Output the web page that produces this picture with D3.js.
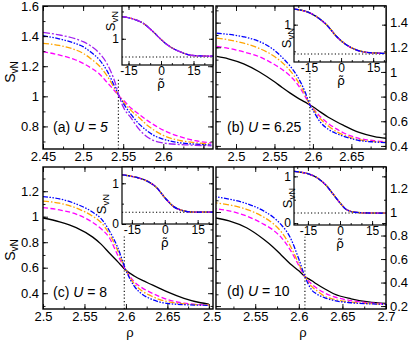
<!DOCTYPE html>
<html>
<head>
<meta charset="utf-8">
<script src="https://cdn.jsdelivr.net/npm/d3@7"></script>
<style>
body { margin: 0; background: #fff; }
svg { display: block; font-family: "Liberation Sans", Arial, Helvetica, sans-serif; }
</style>
</head>
<body>
<svg id="chart" width="411" height="341"></svg>
<script>
// ---- panel (a), U = 5 ----
const aRho = [2.45, 2.47, 2.49, 2.50, 2.51, 2.52, 2.53, 2.54, 2.545, 2.55, 2.56, 2.57, 2.58, 2.59, 2.60, 2.62, 2.64, 2.66];
const aPurple = [1.425, 1.408, 1.383, 1.363, 1.333, 1.288, 1.215, 1.090, 1.0, 0.930, 0.855, 0.780, 0.730, 0.703, 0.690, 0.680, 0.675, 0.671];
const aBlue = [1.403, 1.382, 1.352, 1.330, 1.292, 1.245, 1.168, 1.058, 1.0, 0.955, 0.878, 0.815, 0.770, 0.735, 0.715, 0.692, 0.682, 0.676];
const aOrange = [1.352, 1.338, 1.310, 1.286, 1.248, 1.203, 1.135, 1.045, 1.0, 0.965, 0.905, 0.857, 0.808, 0.770, 0.740, 0.707, 0.692, 0.683];
const aMagenta = [1.297, 1.275, 1.243, 1.219, 1.188, 1.150, 1.092, 1.032, 1.0, 0.975, 0.920, 0.880, 0.840, 0.805, 0.775, 0.733, 0.705, 0.690];
const aInsetRho = [-18, -12.8, -8.2, -3.6, 0.3, 4.2, 8.8, 13.4, 18, 24];
const aInsetS = [1.404, 1.362, 1.283, 1.129, 0.977, 0.855, 0.763, 0.703, 0.686, 0.682];

// ---- panel (b), U = 6.25 ----
const bRho = [2.475, 2.49, 2.51, 2.53, 2.55, 2.56, 2.57, 2.58, 2.59, 2.596, 2.60, 2.61, 2.62, 2.63, 2.64, 2.66, 2.68, 2.695];
const bBlack = [1.126, 1.107, 1.066, 1.002, 0.920, 0.874, 0.830, 0.790, 0.755, 0.732, 0.718, 0.674, 0.633, 0.598, 0.566, 0.510, 0.476, 0.462];
const bBlue = [1.314, 1.305, 1.285, 1.248, 1.175, 1.118, 1.050, 0.962, 0.835, 0.732, 0.690, 0.590, 0.535, 0.502, 0.478, 0.444, 0.432, 0.427];
const bOrange = [1.275, 1.261, 1.233, 1.192, 1.125, 1.077, 1.013, 0.928, 0.815, 0.732, 0.700, 0.618, 0.562, 0.518, 0.488, 0.450, 0.435, 0.429];
const bMagenta = [1.207, 1.192, 1.163, 1.124, 1.060, 1.020, 0.970, 0.900, 0.800, 0.732, 0.705, 0.635, 0.582, 0.540, 0.505, 0.462, 0.442, 0.435];
const bInsetRho = [-22, -16.1, -11.4, -6.7, -2.0, 2.6, 7.3, 13.5, 19, 21];
const bInsetS = [1.29, 1.243, 1.149, 0.994, 0.774, 0.618, 0.524, 0.474, 0.463, 0.462];

// ---- panel (c), U = 8 ----
const cRho = [2.50, 2.52, 2.54, 2.56, 2.57, 2.58, 2.59, 2.60, 2.61, 2.62, 2.63, 2.64, 2.65, 2.67, 2.69, 2.70];
const cBlack = [0.990, 0.960, 0.915, 0.840, 0.785, 0.715, 0.648, 0.580, 0.535, 0.500, 0.470, 0.440, 0.410, 0.360, 0.325, 0.315];
const cBlue = [1.157, 1.140, 1.100, 1.035, 0.985, 0.890, 0.760, 0.580, 0.455, 0.390, 0.355, 0.332, 0.320, 0.310, 0.306, 0.305];
const cOrange = [1.123, 1.106, 1.068, 1.003, 0.955, 0.865, 0.735, 0.580, 0.475, 0.415, 0.380, 0.352, 0.335, 0.316, 0.309, 0.308];
const cMagenta = [1.071, 1.053, 1.020, 0.955, 0.905, 0.835, 0.700, 0.580, 0.490, 0.440, 0.405, 0.375, 0.350, 0.322, 0.310, 0.308];
const cInsetRho = [-19.5, -12.8, -8.2, -3.7, 0.1, 3.9, 7.8, 13.1, 19.9, 22];
const cInsetS = [1.205, 1.143, 1.058, 0.893, 0.643, 0.433, 0.333, 0.293, 0.290, 0.290];

// ---- panel (d), U = 10 ----
const dRho = [2.50, 2.52, 2.54, 2.56, 2.57, 2.58, 2.59, 2.60, 2.607, 2.615, 2.62, 2.63, 2.64, 2.66, 2.68, 2.70];
const dBlack = [0.955, 0.925, 0.866, 0.766, 0.705, 0.633, 0.560, 0.500, 0.452, 0.415, 0.390, 0.345, 0.305, 0.262, 0.236, 0.223];
const dBlue = [1.135, 1.110, 1.072, 1.008, 0.960, 0.890, 0.785, 0.600, 0.452, 0.335, 0.305, 0.270, 0.248, 0.228, 0.219, 0.215];
const dOrange = [1.082, 1.061, 1.023, 0.955, 0.905, 0.830, 0.715, 0.560, 0.452, 0.365, 0.335, 0.282, 0.258, 0.234, 0.221, 0.216];
const dMagenta = [1.034, 1.010, 0.966, 0.895, 0.850, 0.782, 0.680, 0.545, 0.452, 0.385, 0.355, 0.310, 0.280, 0.246, 0.228, 0.218];
const dInsetRho = [-21.5, -15.6, -10.9, -6.2, -3.1, 0, 3.1, 7.8, 15.6, 21.5];
const dInsetS = [1.107, 1.063, 0.976, 0.793, 0.613, 0.433, 0.287, 0.228, 0.215, 0.215];

// tick labels
const aXTicks = [2.45, 2.5, 2.55, 2.6];
const aYTicks = [0.8, 1, 1.2, 1.4, 1.6];
const bXTicks = [2.5, 2.55, 2.6, 2.65];
const bYTicks = [0.4, 0.6, 0.8, 1, 1.2, 1.4];
const cXTicks = [2.5, 2.55, 2.6, 2.65];
const cYTicks = [0.4, 0.6, 0.8, 1, 1.2];
const dXTicks = [2.5, 2.55, 2.6, 2.65, 2.7];
const dYTicks = [0.2, 0.4, 0.6, 0.8, 1, 1.2];
const insetXTicks = [-15, 0, 15];

// critical density (dotted line) and plateau of the collapsed curves
const panelTags = ["(a)", "(b)", "(c)", "(d)"];
const uValues = ["5", "6.25", "8", "10"];
const rhoCritical = [2.544, 2.596, 2.598, 2.607];
const dottedTop = [1.12, 1.0, 0.86, 0.79];
const insetFloor = [0.666, 0.45, 0.29, 0.215];

const styles = {
    black: { color: "#000000", dash: null },
    magenta: { color: "#ff00ff", dash: "5,2.5" },
    orange: { color: "#ffa500", dash: "6,2,1.5,2" },
    blue: { color: "#0000ff", dash: "5,1.5,1.5,1.5,1.5,1.5" },
    purple: { color: "#a020f0", dash: "7,2,2,2" }
};

const svg = d3.select("#chart");
const fmt = d => String(+d.toFixed(3));

function stepTicks(domain, step) {
    const lo = Math.ceil(Math.min(...domain) / step - 1e-6);
    const hi = Math.floor(Math.max(...domain) / step + 1e-6);
    return d3.range(lo, hi + 1).map(k => +(k * step).toFixed(4));
}

const axisFor = { bottom: d3.axisBottom, top: d3.axisTop, left: d3.axisLeft, right: d3.axisRight };

function tickMarks(g, scale, orient, values, len, tx, ty) {
    const a = g.append("g")
        .attr("transform", `translate(${tx},${ty})`)
        .call(axisFor[orient](scale).tickValues(values).tickSize(-len).tickFormat(""));
    a.select(".domain").remove();
    a.selectAll("line").attr("stroke", "#000").attr("stroke-width", 0.9);
}

function tickLabels(g, scale, orient, values, pad, size, tx, ty) {
    const a = g.append("g")
        .attr("transform", `translate(${tx},${ty})`)
        .call(axisFor[orient](scale).tickValues(values).tickSize(0).tickPadding(pad).tickFormat(fmt));
    a.attr("font-family", null).attr("font-size", null);
    a.select(".domain").remove();
    a.selectAll("text").attr("fill", "#000").style("font-size", size + "px");
}

function frameTicks(g, x, y, box, xStep, xMinor, yStep, yMinor, major, minor) {
    const [x0, y0, x1, y1] = box;
    const xs = stepTicks(x.domain(), xStep), xm = stepTicks(x.domain(), xMinor);
    const ys = stepTicks(y.domain(), yStep), ym = stepTicks(y.domain(), yMinor);
    tickMarks(g, x, "bottom", xm, minor, 0, y1);
    tickMarks(g, x, "top", xm, minor, 0, y0);
    tickMarks(g, x, "bottom", xs, major, 0, y1);
    tickMarks(g, x, "top", xs, major, 0, y0);
    tickMarks(g, y, "left", ym, minor, x0, 0);
    tickMarks(g, y, "right", ym, minor, x1, 0);
    tickMarks(g, y, "left", ys, major, x0, 0);
    tickMarks(g, y, "right", ys, major, x1, 0);
}

function svnLabel(g, cx, cy, big, small) {
    const t = g.append("text")
        .attr("transform", `translate(${cx},${cy}) rotate(-90)`)
        .attr("text-anchor", "middle")
        .attr("fill", "#000");
    t.append("tspan").style("font-size", big + "px").text("S");
    t.append("tspan").style("font-size", small + "px").attr("dy", small * 0.3).text("vN");
}

function drawCurves(g, x, y, rho, series, clipId) {
    const line = d3.line()
        .x((d, i) => x(rho[i]))
        .y(d => y(d))
        .curve(d3.curveMonotoneX);
    g.append("g").attr("clip-path", `url(#${clipId})`)
        .selectAll("path")
        .data(series)
        .join("path")
        .attr("d", d => line(d[1]))
        .attr("fill", "none")
        .attr("stroke", d => styles[d[0]].color)
        .attr("stroke-width", 1.3)
        .attr("stroke-dasharray", d => styles[d[0]].dash);
}

const panels = [
    {
        id: "a", box: [43, 6, 213, 149], xDomain: [2.45, 2.662], yDomain: [0.65, 1.6],
        xLabels: aXTicks, yLabels: aYTicks, ySide: "left", rhoLabel: false,
        rho: aRho, series: [["magenta", aMagenta], ["orange", aOrange], ["blue", aBlue], ["purple", aPurple]],
        tagPos: [53, 132], svnPos: [15, 72], italicAll: true,
        inset: { box: [122, 6, 213, 65], xDomain: [-18, 24], yDomain: [0.52, 1.6], rho: aInsetRho, s: aInsetS, yLabels: [1], svnPos: [115, 21] }
    },
    {
        id: "b", box: [216, 6, 386, 149], xDomain: [2.474, 2.695], yDomain: [0.375, 1.535],
        xLabels: bXTicks, yLabels: bYTicks, ySide: "right", rhoLabel: false,
        rho: bRho, series: [["black", bBlack], ["magenta", bMagenta], ["orange", bOrange], ["blue", bBlue]],
        tagPos: [227, 132],
        inset: { box: [294, 6, 386, 62], xDomain: [-22, 21], yDomain: [0.3, 1.35], rho: bInsetRho, s: bInsetS, yLabels: [1], svnPos: [291, 38] }
    },
    {
        id: "c", box: [43, 167, 213, 309], xDomain: [2.5, 2.705], yDomain: [0.276, 1.39],
        xLabels: cXTicks, yLabels: cYTicks, ySide: "left", rhoLabel: true,
        rho: cRho, series: [["black", cBlack], ["magenta", cMagenta], ["orange", cOrange], ["blue", cBlue]],
        tagPos: [53, 297], svnPos: [15, 250],
        inset: { box: [122, 167, 213, 224], xDomain: [-19.5, 22], yDomain: [0, 1.4], rho: cInsetRho, s: cInsetS, yLabels: [0, 1], svnPos: [106, 204] }
    },
    {
        id: "d", box: [216, 167, 386, 309], xDomain: [2.505, 2.7], yDomain: [0.175, 1.383],
        xLabels: dXTicks, yLabels: dYTicks, ySide: "right", rhoLabel: true,
        rho: dRho, series: [["black", dBlack], ["magenta", dMagenta], ["orange", dOrange], ["blue", dBlue]],
        tagPos: [227, 296],
        inset: { box: [294, 167, 386, 225], xDomain: [-21.5, 21.5], yDomain: [-0.04, 1.2], rho: dInsetRho, s: dInsetS, yLabels: [0, 1], svnPos: [292, 198] }
    }
];

const defs = svg.append("defs");

panels.forEach((p, k) => {
    const [x0, y0, x1, y1] = p.box;
    const g = svg.append("g");
    const x = d3.scaleLinear().domain(p.xDomain).range([x0, x1]);
    const y = d3.scaleLinear().domain(p.yDomain).range([y1, y0]);

    defs.append("clipPath").attr("id", "clip-" + p.id)
        .append("rect").attr("x", x0).attr("y", y0).attr("width", x1 - x0).attr("height", y1 - y0);

    // dotted line at the crossing point
    g.append("line")
        .attr("x1", x(rhoCritical[k])).attr("x2", x(rhoCritical[k]))
        .attr("y1", y1).attr("y2", y(dottedTop[k]))
        .attr("stroke", "#000").attr("stroke-width", 1.1).attr("stroke-dasharray", "1.2,2.2");

    drawCurves(g, x, y, p.rho, p.series, "clip-" + p.id);

    frameTicks(g, x, y, p.box, 0.05, 0.025, 0.2, 0.1, 5, 2.5);
    g.append("rect").attr("x", x0).attr("y", y0).attr("width", x1 - x0).attr("height", y1 - y0)
        .attr("fill", "none").attr("stroke", "#000").attr("stroke-width", 1.4);

    tickLabels(g, x, "bottom", p.xLabels, 3, 13, 0, y1);
    if (p.ySide === "left") tickLabels(g, y, "left", p.yLabels, 4, 13, x0, 0);
    else tickLabels(g, y, "right", p.yLabels, 4, 13, x1, 0);

    if (p.svnPos) svnLabel(g, p.svnPos[0], p.svnPos[1], 14, 10);
    if (p.rhoLabel) {
        g.append("text").attr("x", (x0 + x1) / 2 + 2).attr("y", 337)
            .attr("text-anchor", "middle").style("font-size", "13px").text("ρ");
    }

    const tag = g.append("text").attr("x", p.tagPos[0]).attr("y", p.tagPos[1]).style("font-size", "14px");
    tag.append("tspan").text(panelTags[k] + " ");
    tag.append("tspan").style("font-style", "italic").text("U");
    tag.append("tspan").style("font-style", p.italicAll ? "italic" : null).text(" = " + uValues[k]);

    // inset: same data against the rescaled density
    const q = p.inset;
    const [i0, j0, i1, j1] = q.box;
    const ix = d3.scaleLinear().domain(q.xDomain).range([i0, i1]);
    const iy = d3.scaleLinear().domain(q.yDomain).range([j1, j0]);
    const ig = svg.append("g");
    ig.append("rect").attr("x", i0).attr("y", j0).attr("width", i1 - i0).attr("height", j1 - j0).attr("fill", "#fff");
    defs.append("clipPath").attr("id", "clip-i" + p.id)
        .append("rect").attr("x", i0).attr("y", j0).attr("width", i1 - i0).attr("height", j1 - j0);
    ig.append("line")
        .attr("x1", i0).attr("x2", i1).attr("y1", iy(insetFloor[k])).attr("y2", iy(insetFloor[k]))
        .attr("stroke", "#000").attr("stroke-width", 1.1).attr("stroke-dasharray", "1.2,2.2");
    drawCurves(ig, ix, iy, q.rho, p.series.map(s => [s[0], q.s]), "clip-i" + p.id);
    frameTicks(ig, ix, iy, q.box, 15, 5, 1, 0.5, 4, 2);
    ig.append("rect").attr("x", i0).attr("y", j0).attr("width", i1 - i0).attr("height", j1 - j0)
        .attr("fill", "none").attr("stroke", "#000").attr("stroke-width", 1.2);
    tickLabels(ig, ix, "bottom", insetXTicks, 1, 12, 0, j1);
    tickLabels(ig, iy, "left", q.yLabels, 3, 12, i0, 0);
    svnLabel(ig, q.svnPos[0], q.svnPos[1], 13, 9.5);
    ig.append("text").attr("x", ix(0)).attr("y", j1 + 23).attr("text-anchor", "middle")
        .style("font-family", "'DejaVu Sans', sans-serif")
        .style("font-size", "12.5px").text("\u03C1\u0303");
});
</script>
</body>
</html>
